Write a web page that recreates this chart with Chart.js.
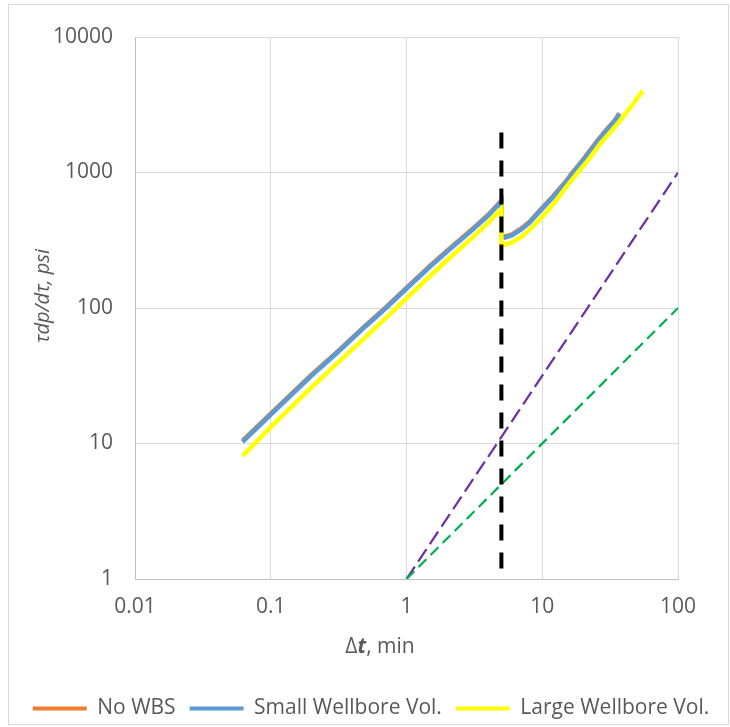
<!DOCTYPE html>
<html>
<head>
<meta charset="utf-8">
<script src="https://cdn.jsdelivr.net/npm/chart.js@4.4.1/dist/chart.umd.min.js"></script>
<style>
  html, body { margin: 0; padding: 0; background: #fff; }
  #wrap { position: relative; width: 730px; height: 727px; }
</style>
</head>
<body>
<div id="wrap"><canvas id="c" width="730" height="727"></canvas></div>
<script>
// ---- Data ----
const xTickValues = [0.01, 0.1, 1, 10, 100];
const xTickLabels = ["0.01", "0.1", "1", "10", "100"];
const yTickValues = [1, 10, 100, 1000, 10000];
const yTickLabels = ["1", "10", "100", "1000", "10000"];

const seriesNames = ["No WBS", "Small Wellbore Vol.", "Large Wellbore Vol."];

const noWbsX = [0.062, 0.1, 0.2, 0.3, 0.5, 0.7, 1, 1.5, 2, 3, 4, 5, 5, 5.3, 6, 7, 8, 10, 12, 15, 16.5, 20, 25, 30, 34.4, 37];
const noWbsY = [10.5, 16.6, 32.2, 46.3, 74.5, 100.5, 141, 206, 266, 377, 488, 620, 343, 336, 350, 386, 430, 548, 668, 866, 985, 1245, 1675, 2095, 2445, 2740];

const smallX = [0.062, 0.1, 0.2, 0.3, 0.5, 0.7, 1, 1.5, 2, 3, 4, 5, 5, 5.3, 6, 7, 8, 10, 12, 15, 16.5, 20, 25, 30, 34.4, 37];
const smallY = [10.3, 16.3, 31.7, 45.6, 73.4, 99, 139, 203, 262, 371, 480, 610, 338, 331, 344, 380, 423, 540, 658, 853, 970, 1226, 1650, 2065, 2410, 2700];

const largeX = [0.062, 0.1, 0.2, 0.3, 0.5, 0.7, 1, 1.5, 2, 3, 4, 5, 5, 5.3, 6, 7, 8, 10, 12, 15, 18.3, 22, 27, 32, 37, 45, 55];
const largeY = [8.1, 13.2, 26, 38, 61, 84, 118, 173, 226, 325, 425, 540, 300, 293, 305, 335, 375, 470, 580, 780, 1000, 1250, 1650, 2000, 2380, 3050, 4000];

const shutInX = [5, 5];
const shutInY = [1970, 1];

const slope15X = [1, 100];
const slope15Y = [1, 1000];

const slope1X = [1, 100];
const slope1Y = [1, 100];

function pts(xs, ys) { return xs.map((x, i) => ({ x: x, y: ys[i] })); }

const FONT = "'Open Sans', 'DejaVu Sans', sans-serif";
const TXT = "#595959";

const chromePlugin = {
  id: 'chrome',
  beforeDraw(chart) {
    const ctx = chart.ctx;
    ctx.save();
    ctx.fillStyle = '#fff';
    ctx.fillRect(0, 0, chart.width, chart.height);
    ctx.strokeStyle = '#D9D9D9';
    ctx.lineWidth = 1;
    ctx.strokeRect(8.5, 4.5, 720, 720);
    ctx.restore();
  },
  afterDraw(chart) {
    const ctx = chart.ctx;
    ctx.save();
    ctx.fillStyle = TXT;
    // Y axis title (rotated)
    ctx.translate(43, 296);
    ctx.rotate(-Math.PI / 2);
    ctx.font = "italic 20px " + FONT;
    ctx.textAlign = 'center';
    ctx.textBaseline = 'middle';
    ctx.fillText("τdp/dτ, psi", 0, 0);
    ctx.restore();

    // X axis title: "Δ" + bold italic "t" + ", min"
    ctx.save();
    ctx.fillStyle = TXT;
    ctx.textBaseline = 'middle';
    const parts = [
      { t: "Δ", f: "21px " + FONT },
      { t: "t", f: "italic bold 21px " + FONT },
      { t: ", min", f: "21px " + FONT }
    ];
    let total = 0;
    parts.forEach(p => { ctx.font = p.f; p.w = ctx.measureText(p.t).width; total += p.w; });
    let x = 380 - total / 2;
    parts.forEach(p => { ctx.font = p.f; ctx.fillText(p.t, x, 647); x += p.w; });
    ctx.restore();
  }
};

new Chart(document.getElementById('c'), {
  type: 'line',
  data: {
    datasets: [
      { label: seriesNames[0], data: pts(noWbsX, noWbsY), borderColor: '#ED7D31', backgroundColor: '#ED7D31', borderWidth: 4.5, pointRadius: 0, order: 4 },
      { label: seriesNames[1], data: pts(smallX, smallY), borderColor: '#5B9BD5', backgroundColor: '#5B9BD5', borderWidth: 4.5, pointRadius: 0, order: 3 },
      { label: seriesNames[2], data: pts(largeX, largeY), borderColor: '#FFFF00', backgroundColor: '#FFFF00', borderWidth: 4.5, pointRadius: 0, order: 2 },
      { label: 'shut-in', data: pts(shutInX, shutInY), borderColor: '#000000', borderWidth: 4, borderDash: [16, 12], pointRadius: 0, order: 1 },
      { label: 'slope15', data: pts(slope15X, slope15Y), borderColor: '#7030A0', borderWidth: 2.25, borderDash: [15, 6], pointRadius: 0, order: 6 },
      { label: 'slope1', data: pts(slope1X, slope1Y), borderColor: '#00B050', borderWidth: 2.25, borderDash: [11, 6], pointRadius: 0, order: 5 }
    ]
  },
  options: {
    responsive: false,
    animation: false,
    devicePixelRatio: 1,
    layout: { padding: { top: 37, right: 0, bottom: -2, left: 12 } },
    elements: { line: { tension: 0, capBezierPoints: false } },
    scales: {
      x: {
        type: 'logarithmic',
        min: 0.01, max: 100,
        afterBuildTicks: (s) => { s.ticks = xTickValues.map(v => ({ value: v })); },
        afterFit: (s) => { s.height = 105; },
        ticks: {
          autoSkip: false, maxRotation: 0, padding: 15,
          color: TXT, font: { family: FONT, size: 21 },
          callback: (v) => { const i = xTickValues.indexOf(v); return i >= 0 ? xTickLabels[i] : ''; }
        },
        grid: { color: '#D9D9D9', lineWidth: 1, drawTicks: false },
        border: { color: '#BFBFBF', width: 1 }
      },
      y: {
        type: 'logarithmic',
        position: 'left',
        min: 1, max: 10000,
        afterBuildTicks: (s) => { s.ticks = yTickValues.map(v => ({ value: v })); },
        afterFit: (s) => { s.width = 123; },
        ticks: {
          autoSkip: false, padding: 22,
          color: TXT, font: { family: FONT, size: 21 },
          callback: (v) => { const i = yTickValues.indexOf(v); return i >= 0 ? yTickLabels[i] : ''; }
        },
        grid: { color: '#D9D9D9', lineWidth: 1, drawTicks: false },
        border: { color: '#BFBFBF', width: 1 }
      },
      yRightSpacer: {
        type: 'linear',
        position: 'right',
        display: true,
        afterFit: (s) => { s.width = 52; },
        ticks: { display: false },
        grid: { display: false, drawOnChartArea: false },
        border: { display: false }
      }
    },
    plugins: {
      tooltip: { enabled: false },
      legend: {
        position: 'bottom',
        labels: {
          generateLabels: (chart) => Chart.defaults.plugins.legend.labels.generateLabels(chart)
            .filter(l => l.datasetIndex < 3)
            .map(l => Object.assign(l, { lineWidth: 0 })),
          sort: (a, b) => a.datasetIndex - b.datasetIndex,
          boxWidth: 54, boxHeight: 4, padding: 14,
          color: TXT, font: { family: FONT, size: 21 }
        }
      }
    }
  },
  plugins: [chromePlugin]
});
</script>
</body>
</html>
